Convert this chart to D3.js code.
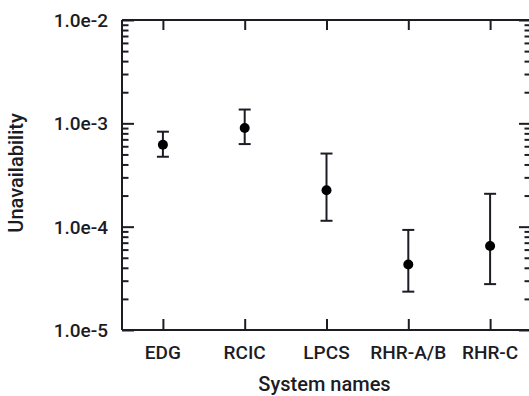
<!DOCTYPE html>
<html><head><meta charset="utf-8">
<script src="https://cdn.jsdelivr.net/npm/d3@7"></script>
<style>
html,body{margin:0;padding:0;background:#fff;}
svg{display:block;}
text{font-family:Roboto,"Liberation Sans",sans-serif;fill:#1c1c24;}
</style></head>
<body>
<svg id="chart" width="529" height="396"></svg>
<script>
const categories = ["EDG", "RCIC", "LPCS", "RHR-A/B", "RHR-C"];
const meanValues = [6.2e-4, 9.0e-4, 2.25e-4, 4.3e-5, 6.5e-5];
const upperValues = [8.3e-4, 1.36e-3, 5.1e-4, 9.3e-5, 2.08e-4];
const lowerValues = [4.75e-4, 6.3e-4, 1.14e-4, 2.35e-5, 2.78e-5];
const yTickValues = [1e-5, 1e-4, 1e-3, 1e-2];
const yTickLabels = ["1.0e-5", "1.0e-4", "1.0e-3", "1.0e-2"];
const xTitle = "System names";
const yTitle = "Unavailability";

const svg = d3.select("#chart");
const L = 122, R = 531, T = 20, B = 330;
const ink = "#1c1c24";

const x = d3.scalePoint().domain(categories).range([L, R]).padding(0.5);
const y = d3.scaleLog().domain([1e-5, 1e-2]).range([B, T]);

// minor tick values
const minor = [];
for (let e = -5; e < -2; e++) for (let m = 2; m <= 9; m++) minor.push(m * Math.pow(10, e));

// frame lines
svg.append("line").attr("x1", L).attr("x2", R).attr("y1", T).attr("y2", T).attr("stroke", ink).attr("stroke-width", 2);
svg.append("line").attr("x1", L).attr("x2", R).attr("y1", B).attr("y2", B).attr("stroke", ink).attr("stroke-width", 2);
svg.append("line").attr("x1", L).attr("x2", L).attr("y1", T).attr("y2", B).attr("stroke", ink).attr("stroke-width", 2);
svg.append("line").attr("x1", R).attr("x2", R).attr("y1", T).attr("y2", B).attr("stroke", ink).attr("stroke-width", 2);

// left axis
const leftAxis = svg.append("g").attr("transform", `translate(${L},0)`)
  .call(d3.axisRight(y).tickValues(yTickValues).tickFormat("").tickSize(12).tickSizeOuter(0));
leftAxis.append("g").call(d3.axisRight(y).tickValues(minor).tickFormat("").tickSize(6.5).tickSizeOuter(0));
leftAxis.selectAll(".domain").remove();
leftAxis.selectAll("line").attr("stroke", ink).attr("stroke-width", 2);

// right axis
const rightAxis = svg.append("g").attr("transform", `translate(${R},0)`)
  .call(d3.axisLeft(y).tickValues(yTickValues).tickFormat("").tickSize(12).tickSizeOuter(0));
rightAxis.append("g").call(d3.axisLeft(y).tickValues(minor).tickFormat("").tickSize(6.5).tickSizeOuter(0));
rightAxis.selectAll(".domain").remove();
rightAxis.selectAll("line").attr("stroke", ink).attr("stroke-width", 2);

// y tick labels
svg.append("g").selectAll("text").data(yTickValues).join("text")
  .attr("x", L - 14).attr("y", d => y(d) + 7)
  .attr("text-anchor", "end").attr("font-size", 19).attr("font-weight", 500)
  .text((d, i) => yTickLabels[i]);

// bottom axis
const bottomAxis = svg.append("g").attr("transform", `translate(0,${B})`)
  .call(d3.axisTop(x).tickSize(11).tickSizeOuter(0).tickFormat(""));
bottomAxis.selectAll(".domain").remove();
bottomAxis.selectAll("line").attr("stroke", ink).attr("stroke-width", 2);

// top axis
const topAxis = svg.append("g").attr("transform", `translate(0,${T})`)
  .call(d3.axisBottom(x).tickSize(10).tickSizeOuter(0).tickFormat(""));
topAxis.selectAll(".domain").remove();
topAxis.selectAll("line").attr("stroke", ink).attr("stroke-width", 2);

// category labels
svg.append("g").selectAll("text").data(categories).join("text")
  .attr("x", d => x(d)).attr("y", 359)
  .attr("text-anchor", "middle").attr("font-size", 19).attr("font-weight", 500)
  .text(d => d);

// titles
svg.append("text").attr("x", (L + 529) / 2 - 1).attr("y", 391)
  .attr("text-anchor", "middle").attr("font-size", 20).attr("font-weight", 500).text(xTitle);
svg.append("text").attr("transform", `translate(23,${(T + B) / 2 - 2}) rotate(-90)`)
  .attr("text-anchor", "middle").attr("font-size", 20).attr("font-weight", 500).text(yTitle);

// error bars
const data = categories.map((c, i) => ({c, m: meanValues[i], hi: upperValues[i], lo: lowerValues[i]}));
const eb = svg.append("g");
eb.selectAll(".v").data(data).join("line")
  .attr("x1", d => x(d.c)).attr("x2", d => x(d.c))
  .attr("y1", d => y(d.hi)).attr("y2", d => y(d.lo))
  .attr("stroke", ink).attr("stroke-width", 2);
eb.selectAll(".ct").data(data).join("line")
  .attr("x1", d => x(d.c) - 6).attr("x2", d => x(d.c) + 6)
  .attr("y1", d => y(d.hi)).attr("y2", d => y(d.hi))
  .attr("stroke", ink).attr("stroke-width", 2);
eb.selectAll(".cb").data(data).join("line")
  .attr("x1", d => x(d.c) - 6).attr("x2", d => x(d.c) + 6)
  .attr("y1", d => y(d.lo)).attr("y2", d => y(d.lo))
  .attr("stroke", ink).attr("stroke-width", 2);
eb.selectAll("circle").data(data).join("circle")
  .attr("cx", d => x(d.c)).attr("cy", d => y(d.m)).attr("r", 5)
  .attr("fill", "#000");
</script>
</body></html>
